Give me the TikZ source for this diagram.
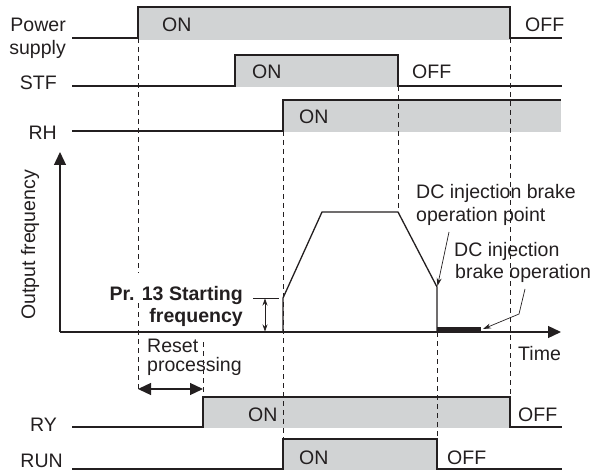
\documentclass[tikz,border=0pt]{standalone}
\usepackage{fontspec}
\setmainfont{Liberation Sans}
\usepackage{tikz}
\usetikzlibrary{arrows.meta}

\definecolor{sigfill}{RGB}{209,211,212}
\definecolor{ink}{RGB}{35,31,32}

\begin{document}
\begin{tikzpicture}[x=1bp,y=-1bp,
		font=\fontsize{19.6}{23}\selectfont,
		signal/.style={draw=ink,line width=1.3bp},
		guide/.style={draw=ink,line width=0.8bp,dash pattern=on 5bp off 4bp},
		axis/.style={draw=ink,line width=1.3bp,-{Triangle[width=12bp,length=13bp]}},
		pointer/.style={draw=ink,line width=0.7bp,-{Stealth[length=8bp,width=5bp]}},
		lbl/.style={anchor=base east,text=ink,inner sep=0pt},
		txt/.style={anchor=base west,text=ink,inner sep=0pt}]
			\useasboundingbox (0,0) rectangle (596,472);
			
			% Shaded ON areas
			\fill[sigfill] (138,7) rectangle (510,40);
			\fill[sigfill] (235,55) rectangle (398,87);
			\fill[sigfill] (283,100) rectangle (561,132);
			\fill[sigfill] (203,397) rectangle (510,428);
			\fill[sigfill] (283,439) rectangle (437,470);
			
			% Dashed timing guides
			\draw[guide] (138,38) -- (138,273);
			\draw[guide] (138,303) -- (138,389);
			\draw[guide] (203,342) -- (203,397);
			\draw[guide] (283,131) -- (283,439);
			\draw[guide] (398,86) -- (398,212);
			\draw[guide] (437,332) -- (437,439);
			\draw[guide] (510,38) -- (510,397);
			
			% Signals
			\draw[signal] (72,38) -- (138,38) -- (138,7) -- (510,7) -- (510,38) -- (562,38);
			\draw[signal] (72,86) -- (235,86) -- (235,55) -- (398,55) -- (398,86) -- (562,86);
			\draw[signal] (72,131) -- (283,131) -- (283,100) -- (561,100);
			\draw[signal] (72,427) -- (203,427) -- (203,397) -- (510,397) -- (510,427) -- (562,427);
			\draw[signal] (72,469) -- (283,469) -- (283,439) -- (437,439) -- (437,469) -- (562,469);
			
			% Signal names
			\node[lbl] (pwr) at (66,32) {Power};
			\node[lbl] (sup) at (66,55) {supply};
			\node[lbl] (stf) at (57,90) {STF};
			\node[lbl] (rh) at (57,140) {RH};
			\node[lbl] (ry) at (57,431) {RY};
			\node[lbl] (run) at (63,467) {RUN};
			
			% ON / OFF states
			\node[txt] (pwron) at (162,32) {ON};
			\node[txt] (pwroff) at (525,32) {OFF};
			\node[txt] (stfon) at (252,79) {ON};
			\node[txt] (stfoff) at (412,79) {OFF};
			\node[txt] (rhon) at (299,124) {ON};
			\node[txt] (ryon) at (248,421) {ON};
			\node[txt] (ryoff) at (518,421) {OFF};
			\node[txt] (runon) at (299,464) {ON};
			\node[txt] (runoff) at (447,464) {OFF};
			
			% Axes
			\coordinate (orig) at (60,332);
			\coordinate (ytip) at (60,152);
			\coordinate (xtip) at (561,332);
			\draw[axis] (orig) -- (ytip);
			\draw[axis] (orig) -- (xtip);
			\node[rotate=90,anchor=base,text=ink,inner sep=0pt] (outf) at (35,245) {Output frequency};
			\node[txt] (time) at (518,360) {Time};
			
			% Output frequency curve
			\draw[signal] (283,332) -- (283,298) -- (322,212) -- (398,212) -- (437,287) -- (437,332);
			\draw[ink,line width=5bp] (437,329.5) -- (481,329.5);
			
			% Starting frequency
			\draw[ink,line width=0.7bp] (253,298) -- (279,298);
			\draw[ink,line width=0.7bp,{Stealth[length=7bp,width=5bp]}-{Stealth[length=7bp,width=5bp]}] (265,298.5) -- (265,331.5);
			\node[lbl,font=\fontsize{19.6}{23}\selectfont\bfseries] (pr13) at (243,300) {Pr. 13 Starting};
			\node[lbl,font=\fontsize{19.6}{23}\selectfont\bfseries] (stfreq) at (243,322) {frequency};
			
			% Reset processing
			\node[txt] (reset) at (147,352) {Reset};
			\node[txt] (proc) at (147,371) {processing};
			\draw[ink,line width=1.3bp,{Triangle[width=12bp,length=13bp]}-{Triangle[width=12bp,length=13bp]}] (138,389) -- (203,389);
			
			% DC injection brake notes
			\node[txt] (dcpt1) at (416,199) {DC injection brake};
			\node[txt] (dcpt2) at (416,222) {operation point};
			\node[txt] (dcop1) at (454,257) {DC injection};
			\node[txt] (dcop2) at (455,279) {brake operation};
			\draw[pointer] (449,232) -- (437.5,286);
			\draw[pointer] (525,289) -- (519,314) -- (483,329);
			
		\end{tikzpicture}
\end{document}
